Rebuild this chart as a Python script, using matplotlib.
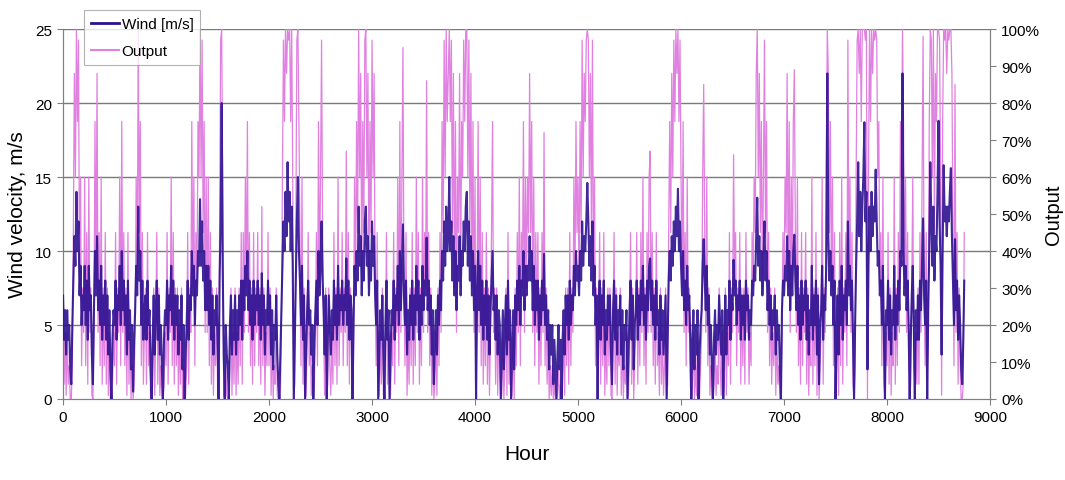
import numpy as np
import matplotlib
matplotlib.use("Agg")
import matplotlib.pyplot as plt
from matplotlib.lines import Line2D
from matplotlib.ticker import FuncFormatter, MultipleLocator

# -----------------------------
# Data: one sample every 10 hours over the year
# -----------------------------
step_hours = 10

wind_ms = [
    # 0 - 999 h
    7, 4, 6, 3, 6, 4, 5, 2, 1, 5,
    8, 11, 9, 14, 10, 12, 7, 9, 5, 7,
    6, 9, 5, 8, 4, 9, 6, 7, 3, 1,
    6, 10, 7, 11, 6, 8, 5, 9, 4, 7,
    5, 8, 4, 7, 3, 6, 2, 0, 4, 6,
    5, 8, 4, 7, 6, 9, 5, 10, 6, 8,
    5, 7, 3, 8, 4, 6, 2, 5, 0.5, 4,
    6, 9, 7, 13, 8, 10, 5, 8, 4, 6,
    7, 4, 8, 5, 6, 2, 0, 4, 7, 3,
    6, 8, 4, 7, 3, 5, 2, 0, 4, 6,
    # 1000 - 1999 h
    5, 8, 4, 7, 6, 9, 5, 8, 4, 7,
    5, 7, 3, 6, 4, 7, 2, 5, 0, 3,
    5, 8, 4, 7, 6, 10, 7, 9, 5, 8,
    7, 10, 9, 13.5, 9, 12, 8, 10, 6, 9,
    6, 9, 5, 8, 4, 7, 3, 6, 5, 7,
    4, 0, 8, 12, 20, 9, 3, 0, 5, 3,
    2, 0, 5, 7, 3, 6, 4, 7, 3, 6,
    4, 7, 5, 8, 4, 8, 6, 9, 7, 10,
    6, 8, 5, 7, 4, 8, 5, 7, 6, 8,
    5, 7, 4, 8.5, 5, 7, 3, 6, 5, 8,
    # 2000 - 2999 h
    5, 7, 3, 6, 2, 5, 4, 7, 3, 1,
    0, 3, 6, 9, 12, 10, 14, 11, 16, 12,
    14, 10, 13, 9, 0, 4, 8, 12, 15, 10,
    8, 5, 9, 4, 7, 0, 3, 6, 8, 5,
    6, 3, 5, 0, 4, 6, 8, 5, 10, 7,
    9, 12, 8, 6, 3, 7, 0, 4, 7, 5,
    3, 6, 4, 8, 5, 7, 4, 9, 5, 7,
    6, 8, 5, 7, 6, 9.5, 5, 8, 4, 7,
    6, 0, 5, 9, 7, 10, 8, 13, 9, 11,
    7, 10, 8, 12, 13, 9, 11, 7, 10, 8,
    # 3000 - 3999 h
    12, 9, 11, 7, 5, 8, 0, 3, 6, 4,
    7, 3, 0, 5, 8, 4, 6, 0, 3, 6,
    5, 8, 4, 7, 6, 9, 5, 10, 6, 9,
    11.8, 7, 5, 8, 3, 6, 4, 7, 5, 8,
    4, 7, 5, 9, 6, 8, 4, 7, 5, 9,
    6, 8, 7, 10.9, 6, 8, 5, 7, 3, 6,
    1, 4, 6, 3, 7, 5, 8, 6, 10, 8,
    12, 9, 13, 10, 11, 15, 10, 12, 8, 11,
    7, 10, 6, 9, 8, 11, 7, 10, 9, 12,
    10, 13, 14, 9, 12, 8, 11, 7, 10, 6,
    # 4000 - 4999 h
    9, 0, 7, 10, 6, 9, 5, 8, 4, 7,
    5, 8, 4, 7, 3, 6, 8, 10, 6, 7,
    4, 7, 3, 6, 5, 0, 3, 6, 2, 5,
    7, 3, 8, 4, 6, 0, 3, 6, 2, 7,
    5, 8, 6, 9, 5, 8, 7, 10, 6, 9,
    7, 9, 8, 11, 8, 10, 6, 9, 5, 8,
    6, 8, 4, 7, 5, 8, 6, 9.8, 5, 7,
    4, 6, 2, 5, 3, 5, 1, 4, 2, 0,
    3, 5, 2, 4, 0, 4, 6, 3, 7, 5,
    7, 4, 8, 5, 7, 6, 9, 7, 10, 8,
    # 5000 - 5999 h
    9, 7, 10, 8, 12, 9, 11, 10, 12, 14.6,
    12, 9, 11, 8, 12, 7, 9, 5, 7, 0,
    6, 8, 4, 7, 5, 8, 3, 6, 4, 7,
    5, 7, 3, 1, 6, 8, 4, 7, 3, 6,
    5, 7, 3, 6, 2, 5, 4, 6, 0, 3,
    6, 8, 4, 7, 2, 5, 6, 8, 4, 7,
    5, 8, 6, 9, 5, 7, 4, 8, 6, 9,
    9.5, 6, 8, 5, 7, 4, 8, 5, 6, 3,
    7, 4, 6, 3, 5, 7, 0, 4, 8, 10,
    8, 11, 9, 12, 10, 13, 11, 14.2, 10, 12,
    # 6000 - 6999 h
    9, 7, 10, 6, 8, 5, 9, 6, 7, 4,
    0, 4, 6, 2, 5, 3, 6, 0, 3, 5,
    6, 9, 10.8, 8, 6, 9, 5, 7, 3, 5,
    2, 0, 4, 6, 3, 5, 4, 7, 5, 3,
    6, 0, 4, 7, 3, 6, 5, 8, 4, 7,
    6, 9.4, 7, 8, 5, 7, 6, 8, 4, 7,
    5, 7, 4, 8, 6, 7, 4, 6, 5, 8,
    7, 9, 8, 11, 13.6, 9, 11, 8, 10, 7,
    9, 12, 8, 10, 6, 8, 5, 7, 4, 6,
    5, 7, 3, 6, 4, 5, 2, 0, 6, 8,
    # 7000 - 7999 h
    7, 9, 8, 11, 7, 10, 6, 9, 7, 10,
    11.1, 8, 6, 9, 5, 7, 4, 8, 5, 7,
    6, 8, 4, 7, 3, 6, 5, 9, 4, 7,
    5, 8, 3, 7, 1, 5, 6, 9, 4, 7,
    6, 9, 22, 11, 8, 10, 7, 9, 5, 8,
    0, 4, 7, 3, 8, 5, 9, 4, 7, 6,
    8, 5, 12, 7, 9, 6, 8, 4, 0, 5,
    9, 12, 16, 11, 14, 10, 13, 15, 18.7, 12,
    14, 2, 9, 13, 10, 14, 11, 13, 12, 15.5,
    12, 9, 10, 7, 8, 5, 9, 4, 0, 6,
    # 8000 - 8759 h
    5, 8, 4, 7, 3, 6, 5, 9, 4, 7,
    5, 8, 6, 10, 9, 22, 10, 7, 9, 6,
    8, 5, 0, 4, 7, 9, 5, 0, 6, 4,
    7, 4, 8, 6, 9, 12.2, 7, 5, 8, 0,
    6, 10, 16, 12, 9, 13, 8, 11, 10, 14,
    18.8, 12, 9, 3, 10, 15.8, 12, 13, 11, 13,
    12, 14, 15.6, 11, 8, 5, 10.8, 6, 8, 4,
    7, 5, 2, 1, 4, 8,
]

output_pct = [
    # 0 - 999 h
    30, 4, 18, 1, 18, 4, 9, 0, 0, 9,
    45, 88, 60, 100, 75, 97, 30, 60, 9, 30,
    18, 60, 9, 45, 4, 60, 18, 30, 1, 0,
    18, 75, 30, 88, 18, 45, 9, 60, 4, 30,
    9, 45, 4, 30, 1, 18, 0, 0, 4, 18,
    9, 45, 4, 30, 18, 60, 9, 75, 18, 45,
    9, 30, 1, 45, 4, 18, 0, 9, 0, 4,
    18, 60, 30, 100, 45, 75, 9, 45, 4, 18,
    30, 4, 45, 9, 18, 0, 0, 4, 30, 1,
    18, 45, 4, 30, 1, 9, 0, 0, 4, 18,
    # 1000 - 1999 h
    9, 45, 4, 30, 18, 60, 9, 45, 4, 30,
    9, 30, 1, 18, 4, 30, 0, 9, 0, 1,
    9, 45, 4, 30, 18, 75, 30, 60, 9, 45,
    30, 75, 60, 100, 60, 97, 45, 75, 18, 60,
    18, 60, 9, 45, 4, 30, 1, 18, 9, 30,
    4, 0, 45, 97, 100, 60, 1, 0, 9, 1,
    0, 0, 9, 30, 1, 18, 4, 30, 1, 18,
    4, 30, 9, 45, 4, 45, 18, 60, 30, 75,
    18, 45, 9, 30, 4, 45, 9, 30, 18, 45,
    9, 30, 4, 52, 9, 30, 1, 18, 9, 45,
    # 2000 - 2999 h
    9, 30, 1, 18, 0, 9, 4, 30, 1, 0,
    0, 1, 18, 60, 97, 75, 100, 88, 100, 97,
    100, 75, 100, 60, 0, 4, 45, 97, 100, 75,
    45, 9, 60, 4, 30, 0, 1, 18, 45, 9,
    18, 1, 9, 0, 4, 18, 45, 9, 75, 30,
    60, 97, 45, 18, 1, 30, 0, 4, 30, 9,
    1, 18, 4, 45, 9, 30, 4, 60, 9, 30,
    18, 45, 9, 30, 18, 67, 9, 45, 4, 30,
    18, 0, 9, 60, 30, 75, 45, 100, 60, 88,
    30, 75, 45, 97, 100, 60, 88, 30, 75, 45,
    # 3000 - 3999 h
    97, 60, 88, 30, 9, 45, 0, 1, 18, 4,
    30, 1, 0, 9, 45, 4, 18, 0, 1, 18,
    9, 45, 4, 30, 18, 60, 9, 75, 18, 60,
    95, 30, 9, 45, 1, 18, 4, 30, 9, 45,
    4, 30, 9, 60, 18, 45, 4, 30, 9, 60,
    18, 45, 30, 86, 18, 45, 9, 30, 1, 18,
    0, 4, 18, 1, 30, 9, 45, 18, 75, 45,
    97, 60, 100, 75, 88, 100, 75, 97, 45, 88,
    30, 75, 18, 60, 45, 88, 30, 75, 60, 97,
    75, 100, 100, 60, 97, 45, 88, 30, 75, 18,
    # 4000 - 4999 h
    60, 0, 30, 75, 18, 60, 9, 45, 4, 30,
    9, 45, 4, 30, 1, 18, 45, 75, 18, 30,
    4, 30, 1, 18, 9, 0, 1, 18, 0, 9,
    30, 1, 45, 4, 18, 0, 1, 18, 0, 30,
    9, 45, 18, 60, 9, 45, 30, 75, 18, 60,
    30, 60, 45, 88, 45, 75, 18, 60, 9, 45,
    18, 45, 4, 30, 9, 45, 18, 72, 9, 30,
    4, 18, 0, 9, 1, 9, 0, 4, 0, 0,
    1, 9, 0, 4, 0, 4, 18, 1, 30, 9,
    30, 4, 45, 9, 30, 18, 60, 30, 75, 45,
    # 5000 - 5999 h
    60, 30, 75, 45, 97, 60, 88, 75, 97, 100,
    97, 60, 88, 45, 97, 30, 60, 9, 30, 0,
    18, 45, 4, 30, 9, 45, 1, 18, 4, 30,
    9, 30, 1, 0, 18, 45, 4, 30, 1, 18,
    9, 30, 1, 18, 0, 9, 4, 18, 0, 1,
    18, 45, 4, 30, 0, 9, 18, 45, 4, 30,
    9, 45, 18, 60, 9, 30, 4, 45, 18, 60,
    67, 18, 45, 9, 30, 4, 45, 9, 18, 1,
    30, 4, 18, 1, 9, 30, 0, 4, 45, 75,
    45, 88, 60, 97, 75, 100, 88, 100, 75, 97,
    # 6000 - 6999 h
    60, 30, 75, 18, 45, 9, 60, 18, 30, 4,
    0, 4, 18, 0, 9, 1, 18, 0, 1, 9,
    18, 60, 85, 45, 18, 60, 9, 30, 1, 9,
    0, 0, 4, 18, 1, 9, 4, 30, 9, 1,
    18, 0, 4, 30, 1, 18, 9, 45, 4, 30,
    18, 66, 30, 45, 9, 30, 18, 45, 4, 30,
    9, 30, 4, 45, 18, 30, 4, 18, 9, 45,
    30, 60, 45, 88, 100, 60, 88, 45, 75, 30,
    60, 97, 45, 75, 18, 45, 9, 30, 4, 18,
    9, 30, 1, 18, 4, 9, 0, 0, 18, 45,
    # 7000 - 7999 h
    30, 60, 45, 88, 30, 75, 18, 60, 30, 75,
    89, 45, 18, 60, 9, 30, 4, 45, 9, 30,
    18, 45, 4, 30, 1, 18, 9, 60, 4, 30,
    9, 45, 1, 30, 0, 9, 18, 60, 4, 30,
    18, 60, 100, 88, 45, 75, 30, 60, 9, 45,
    0, 4, 30, 1, 45, 9, 60, 4, 30, 18,
    45, 9, 97, 30, 60, 18, 45, 4, 0, 9,
    60, 97, 100, 88, 100, 75, 100, 100, 100, 97,
    100, 0, 60, 100, 75, 100, 88, 100, 97, 100,
    97, 60, 75, 30, 45, 9, 60, 4, 0, 18,
    # 8000 - 8759 h
    9, 45, 4, 30, 1, 18, 9, 60, 4, 30,
    9, 45, 18, 75, 60, 100, 75, 30, 60, 18,
    45, 9, 0, 4, 30, 60, 9, 0, 18, 4,
    30, 4, 45, 18, 60, 98, 30, 9, 45, 0,
    18, 75, 100, 97, 60, 100, 45, 88, 75, 100,
    100, 97, 60, 1, 75, 100, 97, 100, 88, 100,
    97, 100, 100, 88, 45, 9, 85, 18, 45, 4,
    30, 9, 0, 0, 4, 45,
]

hours = np.arange(len(wind_ms)) * step_hours

wind_ticks = [0, 5, 10, 15, 20, 25]
hour_ticks = np.arange(0, 9001, 1000)

# -----------------------------
# Style
# -----------------------------
WIND_COLOR = "#2c1090"
OUTPUT_COLOR = "#e080e0"
BG_COLOR = "#c0c0c0"
GRID_COLOR = "#7a7a7a"
AXIS_COLOR = "#808080"
FONT = ["Liberation Sans", "DejaVu Sans"]


def main():
    fig = plt.figure(figsize=(10.65, 4.81), dpi=100)
    ax = fig.add_axes([0.0592, 0.1684, 0.8704, 0.7692])
    ax2 = ax.twinx()

    # wind axis sits above the output axis, output axis carries the grey panel
    ax.set_zorder(ax2.get_zorder() + 1)
    ax.patch.set_visible(False)
    ax2.set_facecolor(BG_COLOR)

    # horizontal gridlines at the wind ticks, drawn behind both series
    for w in wind_ticks[1:]:
        ax2.axhline(w / wind_ticks[-1] * 100, color=GRID_COLOR, lw=1.0, zorder=0.5)

    ax2.plot(hours, output_pct, color=OUTPUT_COLOR, lw=0.9, zorder=2)
    ax.plot(hours, wind_ms, color=WIND_COLOR, lw=1.5, alpha=0.9, zorder=3)

    ax.set_xlim(0, 9000)
    ax.set_ylim(0, 25)
    ax2.set_ylim(0, 100)

    ax.set_xticks(hour_ticks)
    ax.set_yticks(wind_ticks)
    ax2.yaxis.set_major_locator(MultipleLocator(10))
    ax2.yaxis.set_major_formatter(FuncFormatter(lambda v, p: f"{v:.0f}%"))

    for a in (ax, ax2):
        a.spines["top"].set_visible(False)
        for side in ("left", "right", "bottom"):
            a.spines[side].set_color(AXIS_COLOR)
        a.tick_params(colors=AXIS_COLOR, labelcolor="black", length=4, width=0.8,
                      labelsize=11, pad=4)
        for lbl in a.get_xticklabels() + a.get_yticklabels():
            lbl.set_family(FONT)

    ax.set_xlabel("Hour", fontsize=15, family=FONT, labelpad=14)
    ax.set_ylabel("Wind velocity, m/s", fontsize=15, family=FONT, labelpad=6)
    ax2.set_ylabel("Output", fontsize=14.5, family=FONT, labelpad=3)

    handles = [
        Line2D([], [], color=WIND_COLOR, lw=2.0),
        Line2D([], [], color=OUTPUT_COLOR, lw=1.5),
    ]
    leg = fig.legend(handles, ["Wind [m/s]", "Output"], loc="upper left",
                     bbox_to_anchor=(0.079, 0.977), frameon=True, fancybox=False,
                     prop={"family": FONT, "size": 11}, handlelength=1.8,
                     handletextpad=0.2, borderpad=0.45, labelspacing=0.85,
                     borderaxespad=0)
    leg.get_frame().set_edgecolor("#a0a0a0")
    leg.get_frame().set_linewidth(0.8)
    leg.set_zorder(10)

    fig.savefig("out.png", dpi=100)
    plt.close(fig)


if __name__ == "__main__":
    main()
